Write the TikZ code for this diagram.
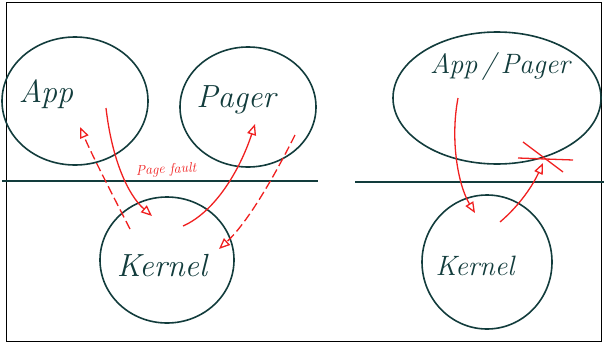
\documentclass[tikz,border=0pt]{standalone}
\definecolor{inkDark}{HTML}{123C3C}
\definecolor{inkRed}{HTML}{F02020}
\usetikzlibrary{shapes.geometric, arrows.meta, positioning, calc}

\begin{document}
\begin{tikzpicture}[x=1pt, y=-1pt,
    blob/.style={ellipse, draw=inkDark, line width=1.6pt, inner sep=0pt},
    hand/.style={inkDark, font=\fontsize{32}{32}\selectfont\itshape},
    handSmall/.style={inkDark, font=\fontsize{28}{28}\selectfont\itshape},
    flow/.style={inkRed, line width=1.3pt,
      -{Triangle[open, length=11pt, width=9pt]}},
    flowBack/.style={flow, dash pattern=on 9pt off 4pt},
    rule/.style={inkDark, line width=1.6pt}]
    \useasboundingbox (0,0) rectangle (604,343);
    \draw[black, line width=1pt] (6,2) rectangle (601,341);

    % left: separate pager task
    \node[blob, minimum width=146pt, minimum height=128pt] (app) at (75,101) {};
    \node[blob, minimum width=136pt, minimum height=120pt] (pager) at (248,107) {};
    \node[blob, minimum width=134pt, minimum height=126pt] (kernel) at (167,260) {};
    \node[hand] (appLbl) at (46,94) {App};
    \node[hand] (pagerLbl) at (236,100) {Pager};
    \node[hand] (kernelLbl) at (162,266) {Kernel};
    \draw[rule] (2,181) -- (318,181);
    \node[inkRed, font=\fontsize{14}{14}\selectfont\itshape, rotate=3] (faultLbl) at (166,170) {Page fault};

    \coordinate (appOut) at (106,108);
    \coordinate (kernelIn) at (152,216);
    \coordinate (kernelUp) at (130,229);
    \coordinate (appIn) at (80,127);
    \coordinate (kernelOut) at (183,226);
    \coordinate (pagerIn) at (255,124);
    \coordinate (pagerOut) at (295,135);
    \coordinate (kernelBack) at (219,249);
    \draw[flow] (appOut) .. controls (112,160) and (128,195) .. (kernelIn);
    \draw[flowBack] (kernelUp) .. controls (110,190) and (92,155) .. (appIn);
    \draw[flow] (kernelOut) .. controls (215,212) and (240,170) .. (pagerIn);
    \draw[flowBack] (pagerOut) .. controls (270,185) and (245,225) .. (kernelBack);

    % right: pager inside the application
    \node[blob, minimum width=208pt, minimum height=132pt] (appPager) at (497,98) {};
    \node[blob, minimum width=130pt, minimum height=134pt] (kernelR) at (487,262) {};
    \node[handSmall] (appPagerLbl) at (500,66) {App\,/\,Pager};
    \node[handSmall] (kernelRLbl) at (475,266) {Kernel};
    \draw[rule] (355,182) -- (604,182);

    \coordinate (appPagerOut) at (458,98);
    \coordinate (kernelRIn) at (475,213);
    \coordinate (kernelROut) at (500,222);
    \coordinate (appPagerIn) at (543,163);
    \draw[flow] (appPagerOut) .. controls (450,140) and (458,185) .. (kernelRIn);
    \draw[flow] (kernelROut) .. controls (520,205) and (533,185) .. (appPagerIn);
    \draw[inkRed, line width=1.3pt] (523,142) -- (563,172);
    \draw[inkRed, line width=1.3pt] (518,158) -- (573,160);
  \end{tikzpicture}
\end{document}
